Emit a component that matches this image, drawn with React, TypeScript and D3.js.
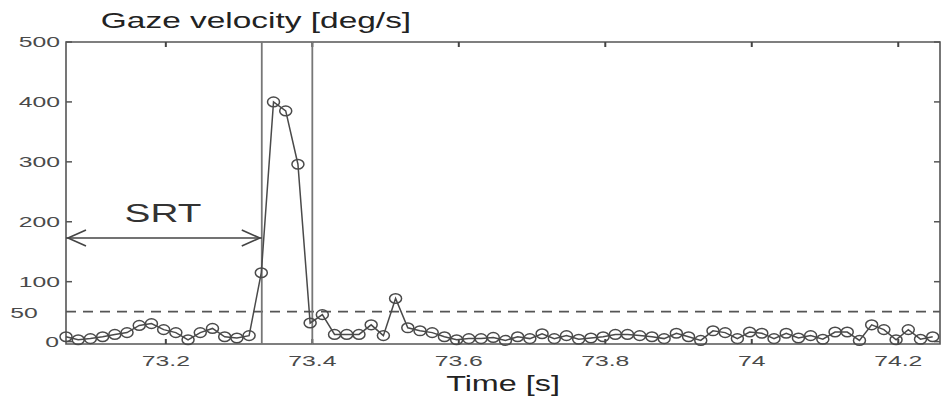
import { useMemo } from "react";
import { line, scaleLinear } from "d3";

const WIDTH = 941;
const HEIGHT = 398;

// 60 Hz gaze samples
const START_TIME = 73.0637;
const SAMPLE_DT = 1 / 60;
const velocity = [
  8, 3, 5, 8, 12, 15, 27, 30, 20, 15, 3, 15, 22, 8, 6, 10,
  115, 400, 385, 296, 31,
  45, 12, 12, 12, 28, 10, 72, 23, 18, 15, 8, 3, 5, 5, 7,
  2, 8, 5, 13, 5, 10, 4, 6, 8, 12, 12, 10,
  8, 5, 14, 8, 2, 18, 15, 5, 16, 14, 5, 14,
  6, 10, 4, 16, 16, 2, 28, 20, 3, 20, 4, 8,
];

const xTicks = [73.2, 73.4, 73.6, 73.8, 74, 74.2];
const xTickLabels = ["73.2", "73.4", "73.6", "73.8", "74", "74.2"];
const yTicks = [0, 100, 200, 300, 400, 500];
const yTickLabels = ["0", "100", "200", "300", "400", "500"];
const threshold = 50;
const saccadeOnset = 73.331;
const saccadeEnd = 73.4;

const FONT = "'Liberation Sans', Arial, sans-serif";

function WideText({ x, y, sx, size, anchor = "middle", fill = "#333", children }: any) {
  return (
    <text
      transform={`translate(${x},${y}) scale(${sx},1)`}
      textAnchor={anchor}
      dominantBaseline="central"
      fontFamily={FONT}
      fontSize={size}
      fill={fill}
    >
      {children}
    </text>
  );
}

export default function App() {
  const x = useMemo(() => scaleLinear().domain([START_TIME, 74.257]).range([66, 940]), []);
  const y = useMemo(() => scaleLinear().domain([-4, 500]).range([344, 42]), []);
  const pts = velocity.map((v, i) => [START_TIME + i * SAMPLE_DT, v] as [number, number]);
  const path = line<[number, number]>().x((d) => x(d[0])).y((d) => y(d[1]))(pts) ?? "";

  const [x0, x1] = x.range();
  const [yb, yt] = y.range();
  const arrowY = 238;
  const ax0 = x0;
  const ax1 = x(saccadeOnset);

  return (
    <svg width={WIDTH} height={HEIGHT} style={{ position: "absolute", left: 0, top: 0, background: "#fff" }}>
      {/* box */}
      <path d={`M${x0},${yt}H${x1}V${yb}H${x0}Z`} fill="none" stroke="#555" strokeWidth={1.6} />

      {/* ticks */}
      {xTicks.map((t) => (
        <g key={t}>
          <line x1={x(t)} x2={x(t)} y1={yt} y2={yt + 5} stroke="#444" strokeWidth={2} />
          <line x1={x(t)} x2={x(t)} y1={yb} y2={yb - 5} stroke="#444" strokeWidth={2} />
        </g>
      ))}
      {yTicks.map((t) => (
        <g key={t}>
          <line x1={x0} x2={x0 + 6} y1={y(t)} y2={y(t)} stroke="#555" strokeWidth={1.5} />
          <line x1={x1} x2={x1 - 6} y1={y(t)} y2={y(t)} stroke="#555" strokeWidth={1.5} />
        </g>
      ))}

      {/* tick labels */}
      {xTicks.map((t, i) => (
        <WideText key={t} x={x(t)} y={361} sx={1.65} size={15} fill="#4a4a4a">
          {xTickLabels[i]}
        </WideText>
      ))}
      {yTicks.map((t, i) => (
        <WideText key={t} x={t === 0 ? 59 : 60} y={y(t)} sx={1.65} size={15} anchor="end" fill="#4a4a4a">
          {yTickLabels[i]}
        </WideText>
      ))}
      <WideText x={24} y={y(threshold) + 1} sx={1.65} size={15} fill="#4a4a4a">
        {String(threshold)}
      </WideText>

      {/* threshold */}
      <line x1={x0} x2={x1} y1={y(threshold)} y2={y(threshold)} stroke="#555" strokeWidth={1.6} strokeDasharray="10 7" />

      {/* saccade markers */}
      {[saccadeOnset, saccadeEnd].map((t) => (
        <line key={t} x1={x(t)} x2={x(t)} y1={yt} y2={yb} stroke="#777" strokeWidth={1.8} />
      ))}

      {/* SRT arrow */}
      <line x1={ax0} x2={ax1} y1={arrowY} y2={arrowY} stroke="#444" strokeWidth={1.6} />
      <path d={`M${ax0 + 20},${arrowY - 8}L${ax0 + 2},${arrowY}L${ax0 + 20},${arrowY + 8}`} fill="none" stroke="#444" strokeWidth={1.6} />
      <path d={`M${ax1 - 20},${arrowY - 8}L${ax1 - 2},${arrowY}L${ax1 - 20},${arrowY + 8}`} fill="none" stroke="#444" strokeWidth={1.6} />
      <WideText x={163} y={213} sx={1.55} size={25} fill="#333">
        SRT
      </WideText>

      {/* data */}
      <path d={path} fill="none" stroke="#4a4a4a" strokeWidth={1.5} />
      {pts.map((d, i) => (
        <ellipse key={i} cx={x(d[0])} cy={y(d[1])} rx={6} ry={4.8} fill="none" stroke="#4a4a4a" strokeWidth={1.5} />
      ))}

      {/* titles */}
      <WideText x={256} y={20} sx={1.52} size={22} fill="#222">
        Gaze velocity [deg/s]
      </WideText>
      <WideText x={503} y={383} sx={1.47} size={22} fill="#222">
        Time [s]
      </WideText>
    </svg>
  );
}
